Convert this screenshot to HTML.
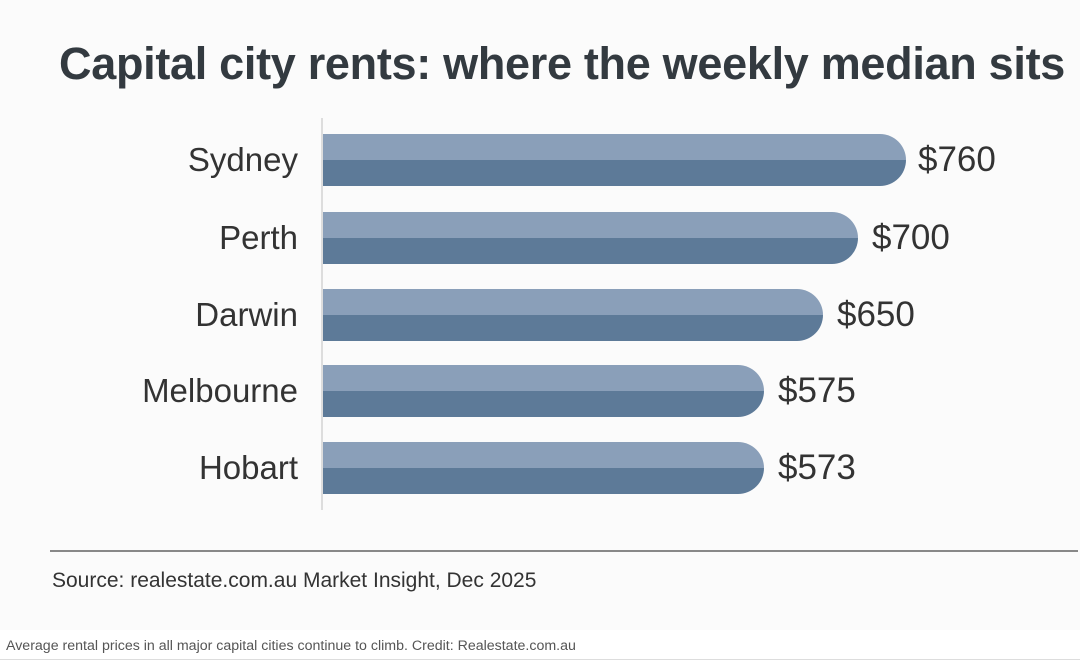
<!DOCTYPE html>
<html><head><style>
body{margin:0;width:1080px;height:664px;background:#fff;font-family:"Liberation Sans",sans-serif;position:relative;overflow:hidden}
.chart{position:absolute;left:0;top:0;width:1080px;height:630px;background:#fbfbfb}
.t{position:absolute;left:0;width:1124px;top:38px;text-align:center;font-size:45px;font-weight:bold;color:#333a40;letter-spacing:-0.3px}
.axis{position:absolute;left:321px;top:118px;width:2px;height:392px;background:#ddd}
.bar{position:absolute;left:323px;height:52px;border-radius:0 26px 26px 0;background:linear-gradient(#8a9fb9 0,#8a9fb9 50%,#5d7a98 50%,#5d7a98 100%)}
.lab{position:absolute;right:782px;font-size:33px;color:#333;line-height:52px}
.val{position:absolute;font-size:35px;color:#333;line-height:52px}
.sep{position:absolute;left:50px;top:550px;width:1028px;height:2px;background:#888}
.src{position:absolute;left:52px;top:569px;font-size:21px;color:#333}
.cap{position:absolute;left:6px;top:638px;font-size:14.2px;color:#555}
.bl{position:absolute;left:0;top:659px;width:1080px;height:1px;background:#ddd}
</style></head><body>
<div class="chart">
<div class="t">Capital city rents: where the weekly median sits</div>
<div class="axis"></div>
<div class="bar" style="top:134px;width:583px"></div><div class="lab" style="top:134px">Sydney</div><div class="val" style="top:134px;left:918px">$760</div>
<div class="bar" style="top:212px;width:535px"></div><div class="lab" style="top:212px">Perth</div><div class="val" style="top:212px;left:872px">$700</div>
<div class="bar" style="top:289px;width:500px"></div><div class="lab" style="top:289px">Darwin</div><div class="val" style="top:289px;left:837px">$650</div>
<div class="bar" style="top:365px;width:441px"></div><div class="lab" style="top:365px">Melbourne</div><div class="val" style="top:365px;left:778px">$575</div>
<div class="bar" style="top:442px;width:441px"></div><div class="lab" style="top:442px">Hobart</div><div class="val" style="top:442px;left:778px">$573</div>
<div class="sep"></div>
<div class="src">Source: realestate.com.au Market Insight, Dec 2025</div>
</div>
<div class="cap">Average rental prices in all major capital cities continue to climb. Credit: Realestate.com.au</div>
<div class="bl"></div>
</body></html>
